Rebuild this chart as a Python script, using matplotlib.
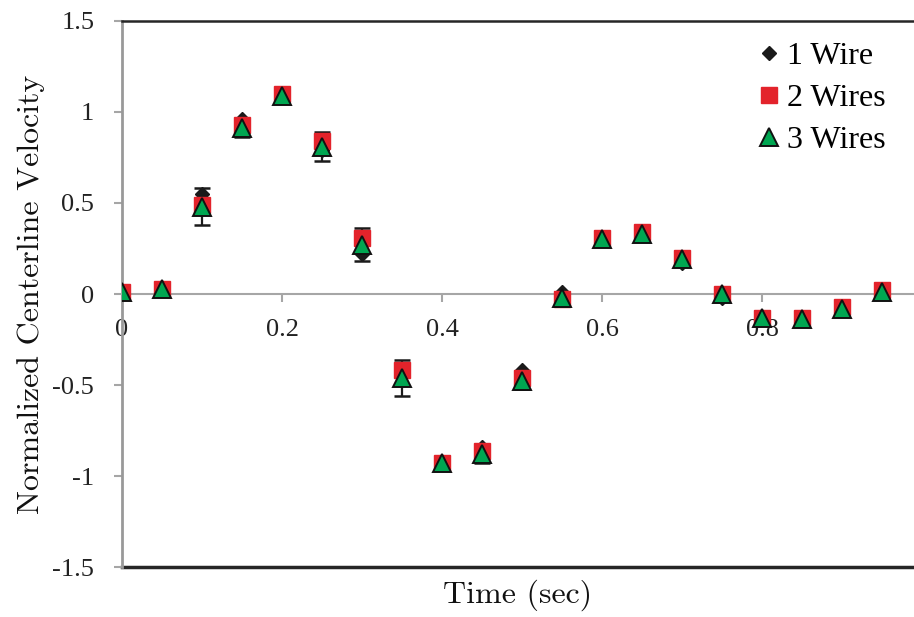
import numpy as np
import matplotlib
matplotlib.use("Agg")
import matplotlib.pyplot as plt

# sample times (sec)
time_s = [0.00, 0.05, 0.10, 0.15, 0.20, 0.25, 0.30, 0.35, 0.40, 0.45,
          0.50, 0.55, 0.60, 0.65, 0.70, 0.75, 0.80, 0.85, 0.90, 0.95]

# normalized centerline velocity per wire configuration
vel_1wire = [0.01, 0.03, 0.55, 0.96, 1.09, 0.79, 0.22, -0.45, -0.93, -0.84,
             -0.42, 0.01, 0.30, 0.33, 0.17, -0.02, -0.13, -0.13, -0.07, 0.01]
vel_2wire = [0.01, 0.03, 0.49, 0.93, 1.10, 0.84, 0.31, -0.42, -0.93, -0.86,
             -0.46, -0.03, 0.31, 0.34, 0.20, 0.00, -0.13, -0.13, -0.07, 0.02]
vel_3wire = [0.01, 0.03, 0.48, 0.91, 1.09, 0.81, 0.27, -0.46, -0.93, -0.88,
             -0.48, -0.02, 0.30, 0.33, 0.19, 0.00, -0.13, -0.14, -0.08, 0.01]
vel_err = [0.01, 0.01, 0.10, 0.05, 0.02, 0.08, 0.09, 0.10, 0.02, 0.05,
           0.04, 0.03, 0.02, 0.02, 0.03, 0.02, 0.02, 0.02, 0.02, 0.02]

tick_font = "Liberation Serif"
label_font = "cmr10"

fig = plt.figure(figsize=(9.14, 6.17), dpi=100)
ax = fig.add_axes([0.1335, 0.081, 0.8665, 0.885])

ax.errorbar(time_s, vel_3wire, yerr=vel_err, fmt="none", ecolor="#1a1a1a",
            elinewidth=1.6, capsize=6, capthick=1.8, zorder=2)
ax.plot(time_s, vel_1wire, ls="none", marker="D", ms=7.5, color="#1a1a1a",
        label="1 Wire", zorder=3)
ax.plot(time_s, vel_2wire, ls="none", marker="s", ms=11, color="#e3232b",
        label="2 Wires", zorder=4)
ax.plot(time_s, vel_3wire, ls="none", marker="^", ms=13.5, color="#00a651",
        markeredgecolor="#111111", markeredgewidth=1.4, label="3 Wires", zorder=5)

ax.set_xlim(0, 0.99)
ax.set_ylim(-1.5, 1.5)
ax.set_xticks([0, 0.2, 0.4, 0.6, 0.8])
ax.set_xticklabels(["0", "0.2", "0.4", "0.6", "0.8"])
ax.set_yticks([-1.5, -1, -0.5, 0, 0.5, 1, 1.5])
ax.set_yticklabels(["-1.5", "-1", "-0.5", "0", "0.5", "1", "1.5"])

# x axis runs through zero, frame lines on top and bottom
ax.spines["bottom"].set_position(("data", 0))
ax.spines["bottom"].set_color("#a6a6a6")
ax.spines["bottom"].set_linewidth(1.5)
ax.spines["left"].set_color("#999999")
ax.spines["left"].set_linewidth(2)
ax.spines["top"].set_color("#262626")
ax.spines["top"].set_linewidth(1.8)
ax.spines["right"].set_visible(False)
ax.axhline(-1.5, color="#262626", lw=2.5, clip_on=False, zorder=1)

ax.tick_params(axis="x", direction="out", length=6, width=1.5, color="#a6a6a6",
               pad=12, labelsize=19, labelcolor="#222222")
ax.tick_params(axis="y", direction="out", length=6, width=1.5, color="#a6a6a6",
               pad=14, labelsize=19, labelcolor="#222222")
for lbl in ax.get_xticklabels() + ax.get_yticklabels():
    lbl.set_fontfamily(tick_font)

ax.set_xlabel("Time (sec)", fontfamily=label_font, fontsize=23, color="#111111")
ax.xaxis.set_label_coords(0.5, -0.022, transform=ax.transAxes)
ax.set_ylabel("Normalized Centerline Velocity", fontfamily=label_font,
              fontsize=23, color="#111111")
ax.yaxis.set_label_coords(-0.097, 0.5, transform=ax.transAxes)

ax.legend(loc="upper right", frameon=False, prop={"family": tick_font, "size": 23},
          handletextpad=0.05, handlelength=1.0, labelspacing=0.4,
          borderaxespad=0.25, bbox_to_anchor=(0.99, 1.0))

fig.savefig("out.png", dpi=100)
